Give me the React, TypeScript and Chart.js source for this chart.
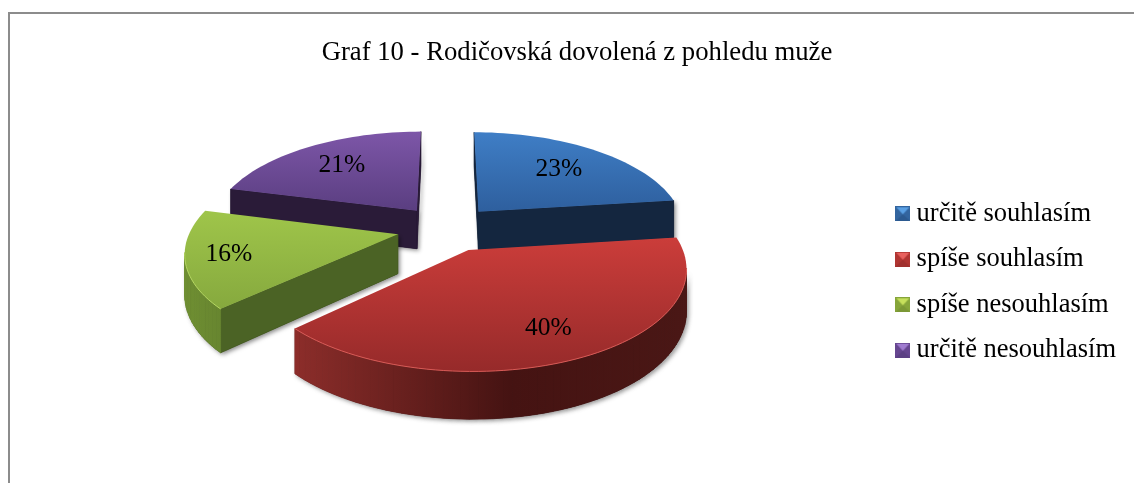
import React, { useEffect, useRef } from "react";
import { Chart, registerables } from "chart.js";

Chart.register(...registerables);

const TITLE = "Graf 10 - Rodičovská dovolená z pohledu muže";
const categories = ["určitě souhlasím", "spíše souhlasím", "spíše nesouhlasím", "určitě nesouhlasím"];
const shares = [23, 40, 16, 21];

const FONT = "'Liberation Serif', 'Times New Roman', serif";

// colours per slice, same order as categories
const topLight = ["#3f7ec6", "#cb3d3a", "#9fc54a", "#7d56a8"];
const topDark = ["#2e5f9e", "#962a2a", "#86a93e", "#5a3e80"];
const rimLeft = ["#1c3a60", "#8c2d2a", "#6f8f32", "#33234a"];
const rimMid = ["#14263f", "#451312", "#56702a", "#281a38"];
const rimRight = ["#14263f", "#4a1715", "#4a6024", "#281a38"];
const cutFace = ["#14263f", "#3e1110", "#4b6325", "#2a1b38"];
const rimEdge = ["#4f8bd0", "#d85a56", "#b4d660", "#8d68b8"];
const bevelHi = ["#5aa0e4", "#e8615e", "#c6e05c", "#a07cd0"];
const bevelMid = ["#33659f", "#b03532", "#86a53a", "#664690"];
const bevelLo = ["#2c5a90", "#a0302e", "#7b9836", "#5c4084"];

// how far along the radius each percentage sits
const labelRadius = [0.67, 0.75, 0.8, 0.68];

const PROJ = { cx: 446.5, cy: 228.5, ax: 207, ay: 96, perspX: 0.16, perspY: 0.15, explode: 0.24, depth: 39 };

function project(u: number, v: number) {
  const w = 1 / (1 - PROJ.perspY * v);
  const wx = 1 / (1 - PROJ.perspX * v);
  return { x: PROJ.cx + PROJ.ax * u * wx, y: PROJ.cy + PROJ.ay * v * w, w };
}

function marker(i: number) {
  const c = document.createElement("canvas");
  c.width = 15;
  c.height = 15;
  const g = c.getContext("2d")!;
  g.fillStyle = bevelMid[i];
  g.fillRect(0, 0, 15, 15);
  g.fillStyle = bevelHi[i];
  g.beginPath();
  g.moveTo(1, 1);
  g.lineTo(14, 1);
  g.lineTo(7.5, 8);
  g.closePath();
  g.fill();
  g.fillStyle = bevelLo[i];
  g.beginPath();
  g.moveTo(0, 15);
  g.lineTo(15, 15);
  g.lineTo(7.5, 8);
  g.closePath();
  g.fill();
  return c;
}

const pie3d = {
  id: "pie3d",
  beforeDatasetsDraw(chart: any) {
    const { ctx } = chart;
    const arcs = chart.getDatasetMeta(0).data;
    const slices = arcs.map((a: any, i: number) => {
      const mid = (a.startAngle + a.endAngle) / 2;
      const ou = Math.cos(mid) * PROJ.explode;
      const ov = Math.sin(mid) * PROJ.explode;
      const pts = [project(ou, ov)];
      const n = Math.max(12, Math.round((a.endAngle - a.startAngle) * 30));
      for (let k = 0; k <= n; k++) {
        const t = a.startAngle + ((a.endAngle - a.startAngle) * k) / n;
        pts.push(project(ou + Math.cos(t), ov + Math.sin(t)));
      }
      return { i, mid, ou, ov, pts };
    });
    // back-to-front: the slice whose middle is furthest from the viewer first
    const order = [...slices].sort((p: any, q: any) => Math.sin(p.mid) - Math.sin(q.mid));
    ctx.save();
    for (const s of order) {
      const { i, pts } = s;
      const xs = pts.map((p: any) => p.x);
      const ys = pts.map((p: any) => p.y);
      const minX = Math.min(...xs), maxX = Math.max(...xs);
      const minY = Math.min(...ys), maxY = Math.max(...ys);
      const rim = ctx.createLinearGradient(minX, 0, maxX, 0);
      rim.addColorStop(0, rimLeft[i]);
      rim.addColorStop(0.55, rimMid[i]);
      rim.addColorStop(1, rimRight[i]);
      const top = ctx.createLinearGradient(0, minY, 0, maxY);
      top.addColorStop(0, topLight[i]);
      top.addColorStop(1, topDark[i]);

      const faces: any[] = [];
      for (let k = 0; k < pts.length; k++) {
        const a = pts[k];
        const b = pts[(k + 1) % pts.length];
        if (b.x >= a.x) continue;
        const isCut = k === 0 || k === pts.length - 1;
        faces.push({ a, b, isCut, fill: isCut ? cutFace[i] : rim });
      }
      const quad = (f: any) => {
        ctx.beginPath();
        ctx.moveTo(f.a.x, f.a.y);
        ctx.lineTo(f.b.x, f.b.y);
        ctx.lineTo(f.b.x, f.b.y + PROJ.depth * f.b.w);
        ctx.lineTo(f.a.x, f.a.y + PROJ.depth * f.a.w);
        ctx.closePath();
      };
      // soft drop shadow of the solid
      ctx.shadowColor = "rgba(0,0,0,0.45)";
      ctx.shadowBlur = 4;
      ctx.shadowOffsetX = 2;
      ctx.shadowOffsetY = 2;
      ctx.fillStyle = "rgba(0,0,0,1)";
      for (const f of faces) {
        quad(f);
        ctx.fill();
      }
      ctx.shadowColor = "transparent";
      ctx.shadowBlur = 0;
      ctx.shadowOffsetX = 0;
      ctx.shadowOffsetY = 0;
      for (const f of faces) {
        quad(f);
        ctx.fillStyle = f.fill;
        ctx.strokeStyle = f.fill;
        ctx.lineWidth = 0.8;
        ctx.fill();
        ctx.stroke();
      }
      ctx.beginPath();
      pts.forEach((p: any, k: number) => (k ? ctx.lineTo(p.x, p.y) : ctx.moveTo(p.x, p.y)));
      ctx.closePath();
      ctx.fillStyle = top;
      ctx.fill();
      // lit edge along the viewer-facing part of the curved rim
      ctx.strokeStyle = rimEdge[i];
      ctx.lineWidth = 1;
      for (const f of faces) {
        if (f.isCut) continue;
        ctx.beginPath();
        ctx.moveTo(f.a.x, f.a.y);
        ctx.lineTo(f.b.x, f.b.y);
        ctx.stroke();
      }
    }
    // percentage labels
    ctx.fillStyle = "#000";
    ctx.font = `25.5px ${FONT}`;
    ctx.textAlign = "center";
    ctx.textBaseline = "middle";
    const ds = chart.data.datasets[0].data;
    for (const s of slices) {
      const r = labelRadius[s.i];
      const p = project(s.ou + Math.cos(s.mid) * r, s.ov + Math.sin(s.mid) * r);
      ctx.fillText(`${ds[s.i]}%`, p.x, p.y);
    }
    ctx.restore();
    return false;
  },
};

export default function App() {
  const ref = useRef<HTMLCanvasElement>(null);
  useEffect(() => {
    const chart = new Chart(ref.current!, {
      type: "pie",
      data: {
        labels: categories,
        datasets: [{ data: shares, backgroundColor: topLight }],
      },
      plugins: [pie3d],
      options: {
        animation: false,
        responsive: false,
        layout: { padding: { left: 28, right: 8, top: 0, bottom: 13 } },
        plugins: {
          tooltip: { enabled: false },
          title: {
            display: true,
            text: TITLE,
            color: "#000",
            font: { family: FONT, size: 26.7, weight: "normal" },
            padding: { top: 37, bottom: 25 },
          },
          legend: {
            position: "right",
            fullSize: false,
            labels: {
              color: "#000",
              font: { family: FONT, size: 26.5 },
              padding: 19,
              usePointStyle: true,
              pointStyleWidth: 1,
              generateLabels: (c: any) =>
                c.data.labels.map((text: string, i: number) => ({
                  text,
                  index: i,
                  fontColor: "#000",
                  pointStyle: marker(i),
                  fillStyle: topLight[i],
                  strokeStyle: "transparent",
                  lineWidth: 0,
                })),
            },
          },
        },
      },
    } as any);
    return () => chart.destroy();
  }, []);
  return (
    <div style={{ position: "absolute", left: 0, top: 0, width: 1134, height: 483, background: "#fff", overflow: "hidden" }}>
      <canvas ref={ref} width={1134} height={483} style={{ display: "block" }} />
      <div style={{ position: "absolute", left: 8, top: 12, right: 0, bottom: 0, borderLeft: "2px solid #8c8c8c", borderTop: "2px solid #8c8c8c" }} />
    </div>
  );
}
